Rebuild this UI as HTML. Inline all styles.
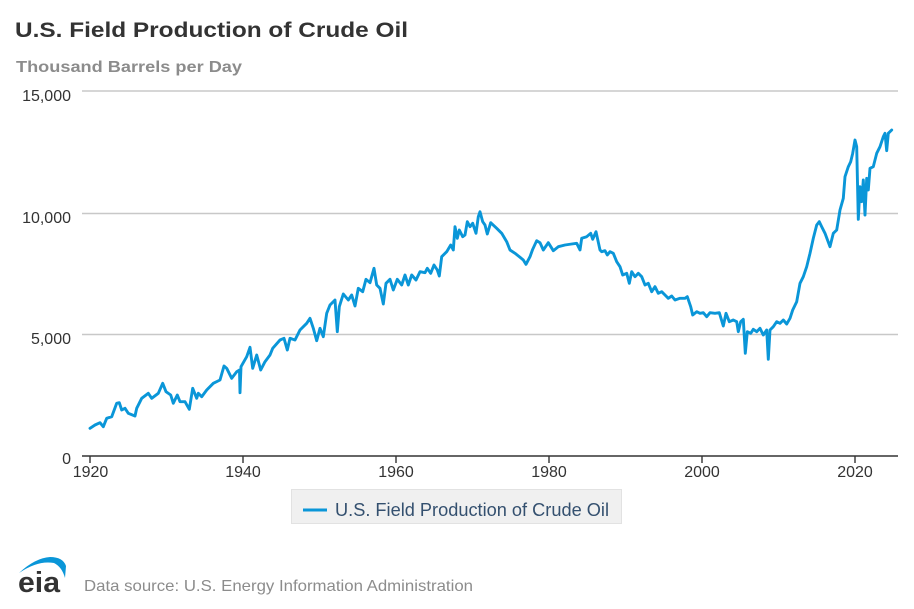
<!DOCTYPE html>
<html>
<head>
<meta charset="utf-8">
<style>
html,body{margin:0;padding:0;background:#fff;}
svg{display:block;}
text{font-family:"Liberation Sans",Arial,sans-serif;}
</style>
</head>
<body>
<svg width="914" height="609" viewBox="0 0 914 609" xmlns="http://www.w3.org/2000/svg">
<rect width="914" height="609" fill="#fff"/>
<text x="15" y="37" font-size="21" font-weight="bold" fill="#333" textLength="393" lengthAdjust="spacingAndGlyphs">U.S. Field Production of Crude Oil</text>
<text x="16" y="72" font-size="16" font-weight="bold" fill="#8c8c8c" textLength="226" lengthAdjust="spacingAndGlyphs">Thousand Barrels per Day</text>

<g stroke="#c8c8c8" stroke-width="1.5">
<line x1="82" y1="91" x2="898" y2="91"/>
<line x1="82" y1="213.5" x2="898" y2="213.5"/>
<line x1="82" y1="334.5" x2="898" y2="334.5"/>
</g>
<g font-size="16" fill="#333" text-anchor="end">
<text x="71" y="101">15,000</text>
<text x="71" y="223">10,000</text>
<text x="71" y="344">5,000</text>
<text x="71" y="464">0</text>
</g>

<polyline fill="none" stroke="#0a96d8" stroke-width="2.9" stroke-linejoin="round" stroke-linecap="round" points="
90,428.3 95,425 100,422.7 103.3,426.7 106.7,418.3 111.7,416.7 116.7,403.3 119.3,402.7 121.7,410 125,408.3 128.3,413.3 135,416 136.7,408.3 141.7,398.3 148.3,393.3 151.7,398.3 158.3,393.3 162.7,383.3 166,391.7 170.7,395 173.3,403.3 177.3,395 180,401.7 185,401.7 189.3,409.3 192.7,388.3 196.7,398.3 198.3,393.3 201.7,396.7 206.7,390 213.3,383.3 220,380 224,366 226.7,368.3 231.7,378.3 236.7,371.7 239.5,370 240,392.7 241,366.7 246.7,356.7 250,347.3 252.7,368.3 256.7,355 260.7,370 265,361.7 270,355 272.7,348.3 280,340 284,338.3 287.3,350 290,338.3 295,340 300,330 306.7,323.3 310,318.3 313.3,328.3 316.7,340.7 320,328.3 323.3,336.7 326.7,313.3 330,305 335,300 337.3,331.7 339.3,306.7
343.3,294 348.3,300 351.7,295 355,306 358.3,288.3 362.7,291.7 366,279.3 370,282.7 374,268.3 376.7,285 380,288.3 383.3,304 386,283.3 390,279.3 393.3,290 397.3,279.3 401.7,285 405,275 408.3,285 411.7,275 416,280 420,271.7 425,272.7 427.3,268.3 430.7,273.3 434,265 437.3,270 439.3,276 441.7,256.7 446.7,251.7 450.7,245 453.3,250 455,226.7 457.3,238.3 459.3,230 462.7,236.7 465,235 467.3,221.7 470,226.7 472.7,223.3 476,233.3 478.3,216.7 480,211.7 482.7,221.7 485,225 487.3,234 490.7,222.7 496.7,228.3 501.7,233.3 506.7,241.7 510,250 515,253.3 520,257.3 523.3,260 526,264.3 530,256.7 532.7,249.3 536.7,240.7 540,242.7 543.3,250 548.3,242.7 553.3,250.7 558.3,246.7 565,245 571.7,244 576.7,243.3 580,250 581.7,238.3 586.7,236.7 590.7,233.3 592.7,239.3 596,231.7
600,250 601.7,251.7 605,250.7 607.3,255 610,251.7 613.3,253.3 616.7,261.7 620,266.7 622.7,275 626.7,273.3 629.3,283.3 631.7,271.7 635,276.7 638.3,273.3 641.7,276.7 645,285 648.3,283.3 651.7,291.7 655,286.7 658.3,293.3 661.7,291.7 665,295 668.3,298.3 671.7,296 675,300 680,298.3 685,298.3 687.3,296.7 690.7,306.7 692.7,315 696.7,311.7 700,313.3 703.3,312.7 706.7,316.7 710,312.7 715,313.3 719.3,312.7 723.3,326 726,313.3 729.3,321.7 733.3,320 736.7,321.7 738.3,331.7 740.7,321.7 743.3,319.3 745.3,353.3 747.3,331.7 750.7,333.3 753.3,329.3 756.7,331.7 760,328.3 763.3,335 766.7,330 768.3,359.3 770,330 773.3,326.7 776.7,321.7 780,323.3 783.3,320 786.7,324 790,318.3 792.7,310 796.7,301.7 800,283.3 803.3,276.7 806.7,266.7 810,253.3 813.3,238.3 816.7,225 819.3,221.7 821.7,226.7 825,233.3 830,246.7 833.3,233.3 836.7,230 840,210 843.3,198.3 845,176.7 848.3,166.7 850.7,161.7 852.7,153.3 855,140 856.7,146.7 858.3,219.3 860,186.7 861.7,201.7 863.3,180 865,215 866.7,178.3 868.3,190 870,168.3 873.3,166.7 876.7,153.3 880,146.7 883.3,136.7 885,133.3 886.7,150.7 888.3,133.3 891.7,130"/>

<line x1="82" y1="456" x2="898" y2="456" stroke="#333" stroke-width="1.6"/>
<g stroke="#333" stroke-width="1.4">
<line x1="90" y1="456" x2="90" y2="463"/>
<line x1="243" y1="456" x2="243" y2="463"/>
<line x1="396" y1="456" x2="396" y2="463"/>
<line x1="549" y1="456" x2="549" y2="463"/>
<line x1="702" y1="456" x2="702" y2="463"/>
<line x1="855" y1="456" x2="855" y2="463"/>
</g>
<g font-size="16" fill="#333" text-anchor="middle">
<text x="90.5" y="477">1920</text>
<text x="243" y="477">1940</text>
<text x="396" y="477">1960</text>
<text x="549" y="477">1980</text>
<text x="702" y="477">2000</text>
<text x="855" y="477">2020</text>
</g>

<rect x="291.5" y="489.5" width="330" height="34" fill="#f0f0f0" stroke="#e2e2e2" stroke-width="1"/>
<line x1="303" y1="510" x2="327" y2="510" stroke="#0a96d8" stroke-width="3"/>
<text x="335" y="516" font-size="18" fill="#34506f" textLength="274" lengthAdjust="spacingAndGlyphs">U.S. Field Production of Crude Oil</text>

<path d="M19,573 Q35,558 50,557 Q63,557 66,566 L65,578 Q62,567 54,563 Q38,560 19,573 Z" fill="#0a96d8"/>
<text x="18" y="592" font-size="29" font-weight="bold" fill="#333" textLength="42" lengthAdjust="spacingAndGlyphs">eia</text>
<text x="84" y="591" font-size="16" fill="#8c8c8c" textLength="389" lengthAdjust="spacingAndGlyphs">Data source: U.S. Energy Information Administration</text>
</svg>
</body>
</html>
